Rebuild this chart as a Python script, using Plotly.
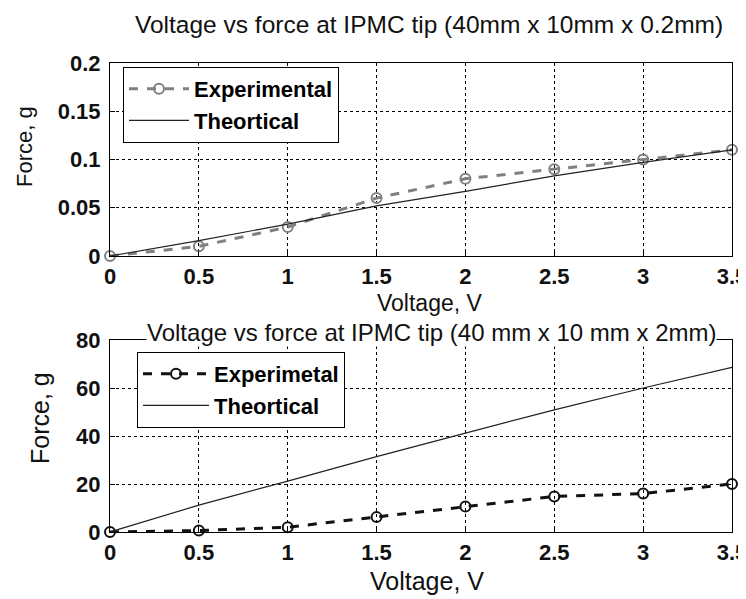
import plotly.graph_objects as go

voltage = [0, 0.5, 1, 1.5, 2, 2.5, 3, 3.5]
top_experimental = [0, 0.01, 0.03, 0.06, 0.08, 0.09, 0.10, 0.11]
top_theoretical = [0, 0.016, 0.033, 0.052, 0.067, 0.083, 0.097, 0.11]
bot_experimental = [0, 0.6, 2, 6.2, 10.6, 14.8, 16, 20]
bot_theoretical = [0, 11.2, 21.2, 31.4, 41.2, 50.9, 60, 68.6]

x_ticks = [0, 0.5, 1, 1.5, 2, 2.5, 3, 3.5]
x_ticklabels = ["0", "0.5", "1", "1.5", "2", "2.5", "3", "3.5"]
top_yticks = [0, 0.05, 0.1, 0.15, 0.2]
top_yticklabels = ["0", "0.05", "0.1", "0.15", "0.2"]
bot_yticks = [0, 20, 40, 60, 80]
bot_yticklabels = ["0", "20", "40", "60", "80"]

FONT = "Liberation Sans"
OFF = 8  # page body margin
W, H = 746, 591

def px_x(p):
    return (p - OFF) / W

def px_y(p):
    return 1 - (p - OFF) / H

fig = go.Figure()

fig.add_trace(go.Scatter(x=voltage, y=top_experimental, name="Experimental",
                         mode="lines+markers", xaxis="x", yaxis="y", legend="legend",
                         line=dict(color="#808080", width=3, dash="dash"),
                         marker=dict(symbol="circle-open", size=10, color="#808080", line=dict(width=2)),
                         cliponaxis=False))
fig.add_trace(go.Scatter(x=voltage, y=top_theoretical, name="Theortical",
                         mode="lines", xaxis="x", yaxis="y", legend="legend",
                         line=dict(color="#222222", width=1.2)))
fig.add_trace(go.Scatter(x=voltage, y=bot_experimental, name="Experimetal",
                         mode="lines+markers", xaxis="x2", yaxis="y2", legend="legend2",
                         line=dict(color="#111111", width=3, dash="dash"),
                         marker=dict(symbol="circle-open", size=10, color="#111111", line=dict(width=2)),
                         cliponaxis=False))
fig.add_trace(go.Scatter(x=voltage, y=bot_theoretical, name="Theortical",
                         mode="lines", xaxis="x2", yaxis="y2", legend="legend2",
                         line=dict(color="#222222", width=1.2)))

tickfont = dict(family=FONT, size=22, color="#111111", weight="bold")
common_axis = dict(showline=True, linecolor="black", linewidth=1.2, mirror=True,
                   showgrid=True, gridcolor="black", griddash="dot", gridwidth=1,
                   ticks="inside", ticklen=5, tickcolor="black", automargin=False,
                   tickfont=tickfont, zeroline=False, ticklabeloverflow="allow")

x_dom = [px_x(110), px_x(732)]
legend_font = dict(family=FONT, size=22, color="black", weight="bold")
fig.update_layout(
    width=W, height=H,
    margin=dict(l=0, r=0, t=0, b=0, autoexpand=False),
    paper_bgcolor="white", plot_bgcolor="white",
    xaxis=dict(domain=x_dom, range=[0, 3.5], tickvals=x_ticks, ticktext=x_ticklabels,
               anchor="y", **common_axis),
    yaxis=dict(domain=[px_y(256), px_y(63)], range=[0, 0.2], tickvals=top_yticks,
               ticktext=top_yticklabels, anchor="x", ticklabelstandoff=4, **common_axis),
    xaxis2=dict(domain=x_dom, range=[0, 3.5], tickvals=x_ticks, ticktext=x_ticklabels,
                anchor="y2", **common_axis),
    yaxis2=dict(domain=[px_y(532), px_y(340)], range=[0, 80], tickvals=bot_yticks,
                ticktext=bot_yticklabels, anchor="x2", ticklabelstandoff=4, **common_axis),
    legend=dict(x=px_x(123), y=px_y(67), xanchor="left", yanchor="top",
                bgcolor="white", bordercolor="black", borderwidth=1,
                font=legend_font, tracegroupgap=0, itemwidth=60),
    legend2=dict(x=px_x(137), y=px_y(352), xanchor="left", yanchor="top",
                 bgcolor="white", bordercolor="black", borderwidth=1,
                 font=legend_font, tracegroupgap=0, itemwidth=66),
    showlegend=True,
)

def note(text, x, y, size, angle=0, **kw):
    fig.add_annotation(text=text, x=px_x(x), y=px_y(y), xref="paper", yref="paper",
                       xanchor="center", yanchor="middle", showarrow=False,
                       textangle=angle, font=dict(family=FONT, size=size, color="#111111"), **kw)

note("Voltage vs force at IPMC tip (40mm x 10mm x 0.2mm)", 429, 24, 24.5, borderpad=0)
note("Voltage, V", 430, 303, 23)
note("Voltage vs force at IPMC tip (40 mm x 10 mm x 2mm)", 431, 333, 24,
     bgcolor="white", borderpad=0)
note("Voltage, V", 427, 581, 25)
note("Force, g", 24, 147, 22, angle=-90)
note("Force, g", 40, 418, 25, angle=-90)

fig.write_html("out.html")
